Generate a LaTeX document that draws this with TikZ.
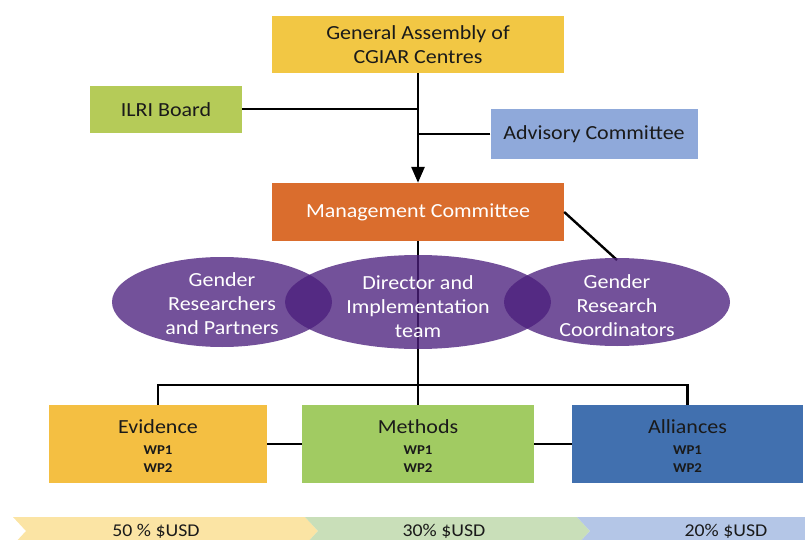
\documentclass[tikz,border=0pt]{standalone}
\usepackage{fontspec}
\setmainfont{Carlito}[FakeStretch=1.1]
\usetikzlibrary{arrows.meta,shapes.geometric}
\definecolor{gaY}{HTML}{F2C744}
\definecolor{ilriG}{HTML}{B5CB58}
\definecolor{advB}{HTML}{8FA9DA}
\definecolor{mcO}{HTML}{DA6D2D}
\definecolor{purp}{RGB}{76,32,125}
\definecolor{evY}{HTML}{F4BF42}
\definecolor{meG}{HTML}{A1CB62}
\definecolor{alB}{HTML}{4170AF}
\definecolor{bandY}{HTML}{FBE4A4}
\definecolor{bandG}{HTML}{C9DFB9}
\definecolor{bandB}{HTML}{B4C6E7}
\definecolor{txt}{HTML}{1A1A1A}
\begin{document}
\begin{tikzpicture}[x=1pt,y=-1pt,
  box/.style={rectangle, inner sep=0pt, align=center, text=txt,
    font=\fontsize{20}{24}\selectfont},
  wp/.style={rectangle, inner sep=0pt, align=center, text=txt,
    font=\fontsize{13.5}{18}\selectfont\bfseries},
  oval/.style={ellipse, inner sep=0pt, fill=purp, fill opacity=0.78},
  ovaltext/.style={align=center, text=white, inner sep=0pt,
    font=\fontsize{20}{24}\selectfont},
  conn/.style={line width=2.4pt, black},
  thin/.style={line width=2pt, black},
  bandtext/.style={text=txt, inner sep=0pt, font=\fontsize{18}{20}\selectfont}]
\useasboundingbox (0,0) rectangle (805,540);
\clip (0,0) rectangle (805,540);

% top boxes
\node[box, fill=gaY, minimum width=292pt, minimum height=57pt] (ga) at (418,44.5)
  {General Assembly of\\CGIAR Centres};
\node[box, fill=ilriG, minimum width=152pt, minimum height=47pt] (ilri) at (166,109.5) {ILRI Board};
\node[box, fill=advB, minimum width=207pt, minimum height=50pt] (adv) at (594,134) {Advisory Committee};
\node[box, fill=mcO, text=white, minimum width=292pt, minimum height=58pt] (mc) at (418,212) {Management Committee};

% connectors top
\draw[line width=2.8pt, -{Triangle[length=16pt,width=13pt]}] (ga.south) -- (mc.north);
\coordinate (jilri) at (ga.south |- ilri.east);
\coordinate (jadv) at (ga.south |- adv.west);
\draw[thin] (ilri.east) -- (jilri);
\draw[thin] (adv.west) -- (jadv);

% lower boxes
\node[box, fill=evY, minimum width=218pt, minimum height=78pt] (ev) at (158,444) {};
\node[box, fill=meG, minimum width=232pt, minimum height=78pt] (me) at (418,444) {};
\node[box, fill=alB, minimum width=231pt, minimum height=78pt] (al) at (687.5,444) {};

\coordinate (bus) at (418,385);
\draw[conn] (mc.south) -- (bus);
\draw[conn] (ev.north) |- (bus) -| (al.north);
\draw[conn] (bus) -- (me.north);
\draw[conn] (ev.east) -- (me.west);
\draw[conn] (me.east) -- (al.west);
\coordinate (rtop) at (617,260);
\draw[conn] (mc.east) -- (rtop);

% ellipses
\node[oval, minimum width=220pt, minimum height=90pt] (le) at (222,302) {};
\node[oval, minimum width=266pt, minimum height=94pt] (mid) at (418,302) {};
\node[oval, minimum width=226pt, minimum height=88pt] (re) at (617,302) {};
\node[ovaltext] (let) at ([yshift=-2pt]le.center) {Gender\\Researchers\\and Partners};
\node[ovaltext] (midt) at ([yshift=-4.5pt]mid.center) {Director and\\Implementation\\team};
\node[ovaltext] (ret) at ([yshift=-4pt]re.center) {Gender\\Research\\Coordinators};

% box texts
\node[box] (evt) at (158,427) {Evidence};
\node[wp] (evw) at (158,459) {WP1\\WP2};
\node[box] (met) at (418,427) {Methods};
\node[wp] (mew) at (418,459) {WP1\\WP2};
\node[box] (alt) at (687.5,427) {Alliances};
\node[wp] (alw) at (687.5,459) {WP1\\WP2};

% funding band
\fill[bandY] (13,517) -- (305,517) -- (318,531) -- (305,545) -- (13,545) -- (26,531) -- cycle;
\fill[bandG] (305,517) -- (577,517) -- (590,531) -- (577,545) -- (305,545) -- (318,531) -- cycle;
\fill[bandB] (577,517) -- (810,517) -- (810,545) -- (577,545) -- (590,531) -- cycle;
\node[bandtext] (b1) at (156,531) {50 \% \$USD};
\node[bandtext] (b2) at (444,531) {30\% \$USD};
\node[bandtext] (b3) at (726,531) {20\% \$USD};
\end{tikzpicture}
\end{document}
